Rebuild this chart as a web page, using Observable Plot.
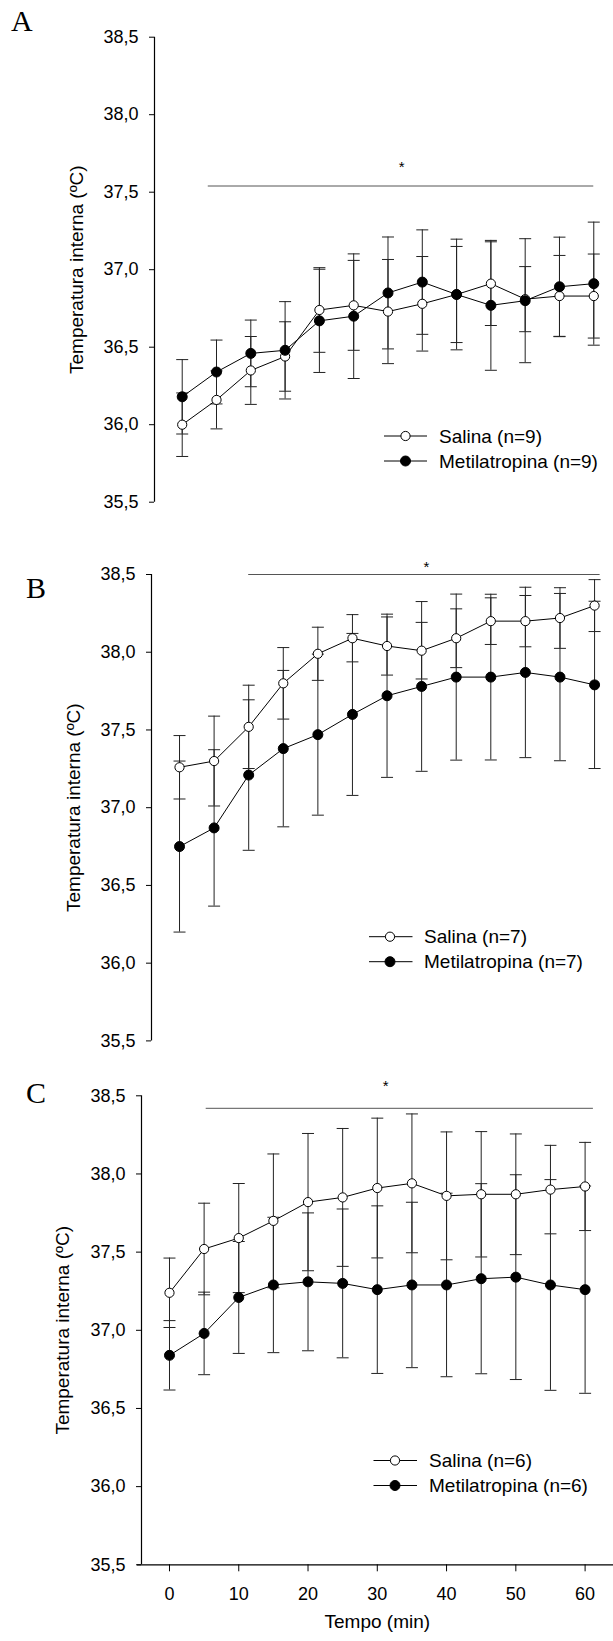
<!DOCTYPE html>
<html>
<head>
<meta charset="utf-8">
<script src="https://cdn.jsdelivr.net/npm/d3@7"></script>
<script src="https://cdn.jsdelivr.net/npm/@observablehq/plot@0.6"></script>
<style>
  body { margin: 0; background: #fff; }
  #page { position: relative; width: 613px; height: 1641px; background: #fff; overflow: hidden;
          font-family: "Liberation Sans", Arial, sans-serif; }
  .panel { position: absolute; left: 0; }
  .letter { position: absolute; font-family: "Liberation Serif", "Times New Roman", serif;
            font-size: 30px; line-height: 1; color: #000; }
  .legend { position: absolute; left: 0; top: 0; overflow: visible; }
</style>
</head>
<body>
<div id="page"></div>
<script>
// Time points (min)
const times = [0, 5, 10, 15, 20, 25, 30, 35, 40, 45, 50, 55, 60];
const yTicks = [35.5, 36.0, 36.5, 37.0, 37.5, 38.0, 38.5];
const xTicks = [0, 10, 20, 30, 40, 50, 60];

// Panel A: means and SEM (ºC)
const salinaA    = [36.00, 36.16, 36.35, 36.44, 36.74, 36.77, 36.73, 36.78, 36.84, 36.91, 36.81, 36.83, 36.83];
const salinaA_se = [0.205, 0.187, 0.219, 0.224, 0.273, 0.290, 0.336, 0.305, 0.357, 0.270, 0.210, 0.262, 0.271];
const metilA     = [36.18, 36.34, 36.46, 36.48, 36.67, 36.70, 36.85, 36.92, 36.84, 36.77, 36.80, 36.89, 36.91];
const metilA_se  = [0.240, 0.206, 0.215, 0.314, 0.333, 0.402, 0.361, 0.337, 0.310, 0.419, 0.400, 0.320, 0.397];

// Panel B
const salinaB    = [37.26, 37.30, 37.52, 37.80, 37.99, 38.09, 38.04, 38.01, 38.09, 38.20, 38.20, 38.22, 38.30];
const salinaB_se = [0.204, 0.289, 0.268, 0.230, 0.171, 0.152, 0.187, 0.182, 0.189, 0.150, 0.165, 0.195, 0.167];
const metilB     = [36.75, 36.87, 37.21, 37.38, 37.47, 37.60, 37.72, 37.78, 37.84, 37.84, 37.87, 37.84, 37.79];
const metilB_se  = [0.550, 0.503, 0.484, 0.503, 0.518, 0.521, 0.525, 0.546, 0.534, 0.533, 0.548, 0.538, 0.538];

// Panel C
const salinaC    = [37.24, 37.52, 37.59, 37.70, 37.82, 37.85, 37.91, 37.94, 37.86, 37.87, 37.87, 37.90, 37.92];
const salinaC_se = [0.222, 0.293, 0.349, 0.428, 0.439, 0.441, 0.447, 0.444, 0.409, 0.401, 0.386, 0.283, 0.282];
const metilC     = [36.84, 36.98, 37.21, 37.29, 37.31, 37.30, 37.26, 37.29, 37.29, 37.33, 37.34, 37.29, 37.26];
const metilC_se  = [0.222, 0.264, 0.358, 0.433, 0.441, 0.476, 0.536, 0.529, 0.587, 0.608, 0.655, 0.674, 0.663];

// Significance bars: start/end time, level, and asterisk position
const sigA = {x1: 3.8, x2: 60.0, y: 37.54, sx: 32.0, sy: 37.68};
const sigB = {x1: 10.0, x2: 60.8, y: 38.50, sx: 35.7, sy: 38.565};
const sigC = {x1: 5.3, x2: 61.2, y: 38.42, sx: 31.2, sy: 38.58};

const nA = 9, nB = 7, nC = 6;

const fmt = d => d.toFixed(1).replace(".", ",");
const rows = (m, se) => times.map((t, i) => ({t, m: m[i], se: se[i]}));
const capSymbol = { draw(ctx) { ctx.moveTo(-6, 0); ctx.lineTo(6, 0); } };

function panel(cfg) {
  const sal = rows(cfg.sal, cfg.salSe);
  const met = rows(cfg.met, cfg.metSe);
  const both = sal.concat(met);
  const caps = both.flatMap(d => [{t: d.t, v: d.m + d.se}, {t: d.t, v: d.m - d.se}]);
  const marks = [
    Plot.ruleX([cfg.xDomain[0]], {stroke: "#000", strokeWidth: 1.2}),
    Plot.axisY({ticks: yTicks, tickSize: 5, tickPadding: 11, tickFormat: fmt, label: null, fontSize: 18}),
    Plot.text(["Temperatura interna (ºC)"], {frameAnchor: "left", rotate: -90, dx: cfg.titleDx,
      textAnchor: "middle", fontSize: 19}),
    // significance bar
    Plot.ruleY([cfg.sig], {y: "y", x1: "x1", x2: "x2", stroke: "#555", strokeWidth: 1}),
    Plot.text([cfg.sig], {x: "sx", y: "sy", text: () => "*", fontSize: 15, dy: 3}),
    // error bars
    Plot.ruleX(both, {x: "t", y1: d => d.m - d.se, y2: d => d.m + d.se, stroke: "#222", strokeWidth: 1}),
    Plot.dot(caps, {x: "t", y: "v", symbol: capSymbol, stroke: "#222", fill: "none", strokeWidth: 1}),
    // series
    Plot.line(sal, {x: "t", y: "m", stroke: "#000", strokeWidth: 1}),
    Plot.line(met, {x: "t", y: "m", stroke: "#000", strokeWidth: 1}),
    Plot.dot(sal, {x: "t", y: "m", r: 4.6, fill: "#fff", stroke: "#000", strokeWidth: 1}),
    Plot.dot(met, {x: "t", y: "m", r: 5, fill: "#000", stroke: "#000", strokeWidth: 1})
  ];
  if (cfg.xAxis) {
    marks.push(
      Plot.ruleY([35.5], {x1: cfg.xAxisStart, x2: cfg.xDomain[1], stroke: "#000", strokeWidth: 1.2}),
      Plot.axisX({ticks: xTicks, tickSize: 7, tickPadding: 15, label: null, fontSize: 18}),
      Plot.text(["Tempo (min)"], {x: 30, frameAnchor: "bottom", dy: 63, fontSize: 19})
    );
  }
  return Plot.plot({
    width: 613,
    height: cfg.height,
    marginTop: cfg.mt,
    marginBottom: cfg.mb,
    marginLeft: cfg.ml,
    marginRight: cfg.mr,
    style: {fontFamily: "'Liberation Sans', Arial, sans-serif", fontSize: "18px", color: "#000", background: "transparent"},
    x: {domain: cfg.xDomain, axis: null},
    y: {domain: [35.5, 38.5], axis: null},
    marks
  });
}

const page = document.getElementById("page");

function place(node, top) {
  node.classList.add("panel");
  node.style.top = top + "px";
  page.appendChild(node);
}

place(panel({sal: salinaA, salSe: salinaA_se, met: metilA, metSe: metilA_se, sig: sigA,
  height: 520, mt: 36.7, mb: 18.3, ml: 154, mr: 6, xDomain: [-4.04, 62], titleDx: -78}), 0);
place(panel({sal: salinaB, salSe: salinaB_se, met: metilB, metSe: metilB_se, sig: sigB,
  height: 540, mt: 54, mb: 19.6, ml: 151, mr: 5.1, xDomain: [-4.05, 62], titleDx: -78}), 520);
place(panel({sal: salinaC, salSe: salinaC_se, met: metilC, metSe: metilC_se, sig: sigC,
  height: 581, mt: 35.3, mb: 76.7, ml: 141, mr: 0, xDomain: [-4.04, 64.1], titleDx: -79,
  xAxis: true, xAxisStart: -4.62}), 1060);

// Panel letters
[["A", 11, 30], ["B", 26, 597], ["C", 26, 1102]].forEach(([s, x, base]) => {
  const el = document.createElement("div");
  el.className = "letter";
  el.textContent = s;
  el.style.left = x + "px";
  el.style.top = (base - 24) + "px";
  page.appendChild(el);
});

// Legends
const ns = "http://www.w3.org/2000/svg";
const legendSvg = document.createElementNS(ns, "svg");
legendSvg.setAttribute("class", "legend");
legendSvg.setAttribute("width", 613);
legendSvg.setAttribute("height", 1641);
const legends = [
  {x0: 384, x1: 427, cx: 405.5, tx: 439, y: 436, n: nA},
  {x0: 369, x1: 412.5, cx: 390, tx: 424, y: 936.7, n: nB},
  {x0: 373.5, x1: 417, cx: 395, tx: 429, y: 1460.5, n: nC}
];
legends.forEach(L => {
  [["Salina", "#fff", 4.6, 0], ["Metilatropina", "#000", 5, 25]].forEach(([name, fill, r, off]) => {
    const y = L.y + off;
    const line = document.createElementNS(ns, "line");
    line.setAttribute("x1", L.x0); line.setAttribute("x2", L.x1);
    line.setAttribute("y1", y); line.setAttribute("y2", y);
    line.setAttribute("stroke", "#000");
    legendSvg.appendChild(line);
    const c = document.createElementNS(ns, "circle");
    c.setAttribute("cx", L.cx); c.setAttribute("cy", y); c.setAttribute("r", r);
    c.setAttribute("fill", fill); c.setAttribute("stroke", "#000");
    legendSvg.appendChild(c);
    const t = document.createElementNS(ns, "text");
    t.setAttribute("x", L.tx); t.setAttribute("y", y);
    t.setAttribute("dominant-baseline", "central");
    t.setAttribute("font-family", "'Liberation Sans', Arial, sans-serif");
    t.setAttribute("font-size", "19");
    t.textContent = `${name} (n=${L.n})`;
    legendSvg.appendChild(t);
  });
});
page.appendChild(legendSvg);
</script>
</body>
</html>
